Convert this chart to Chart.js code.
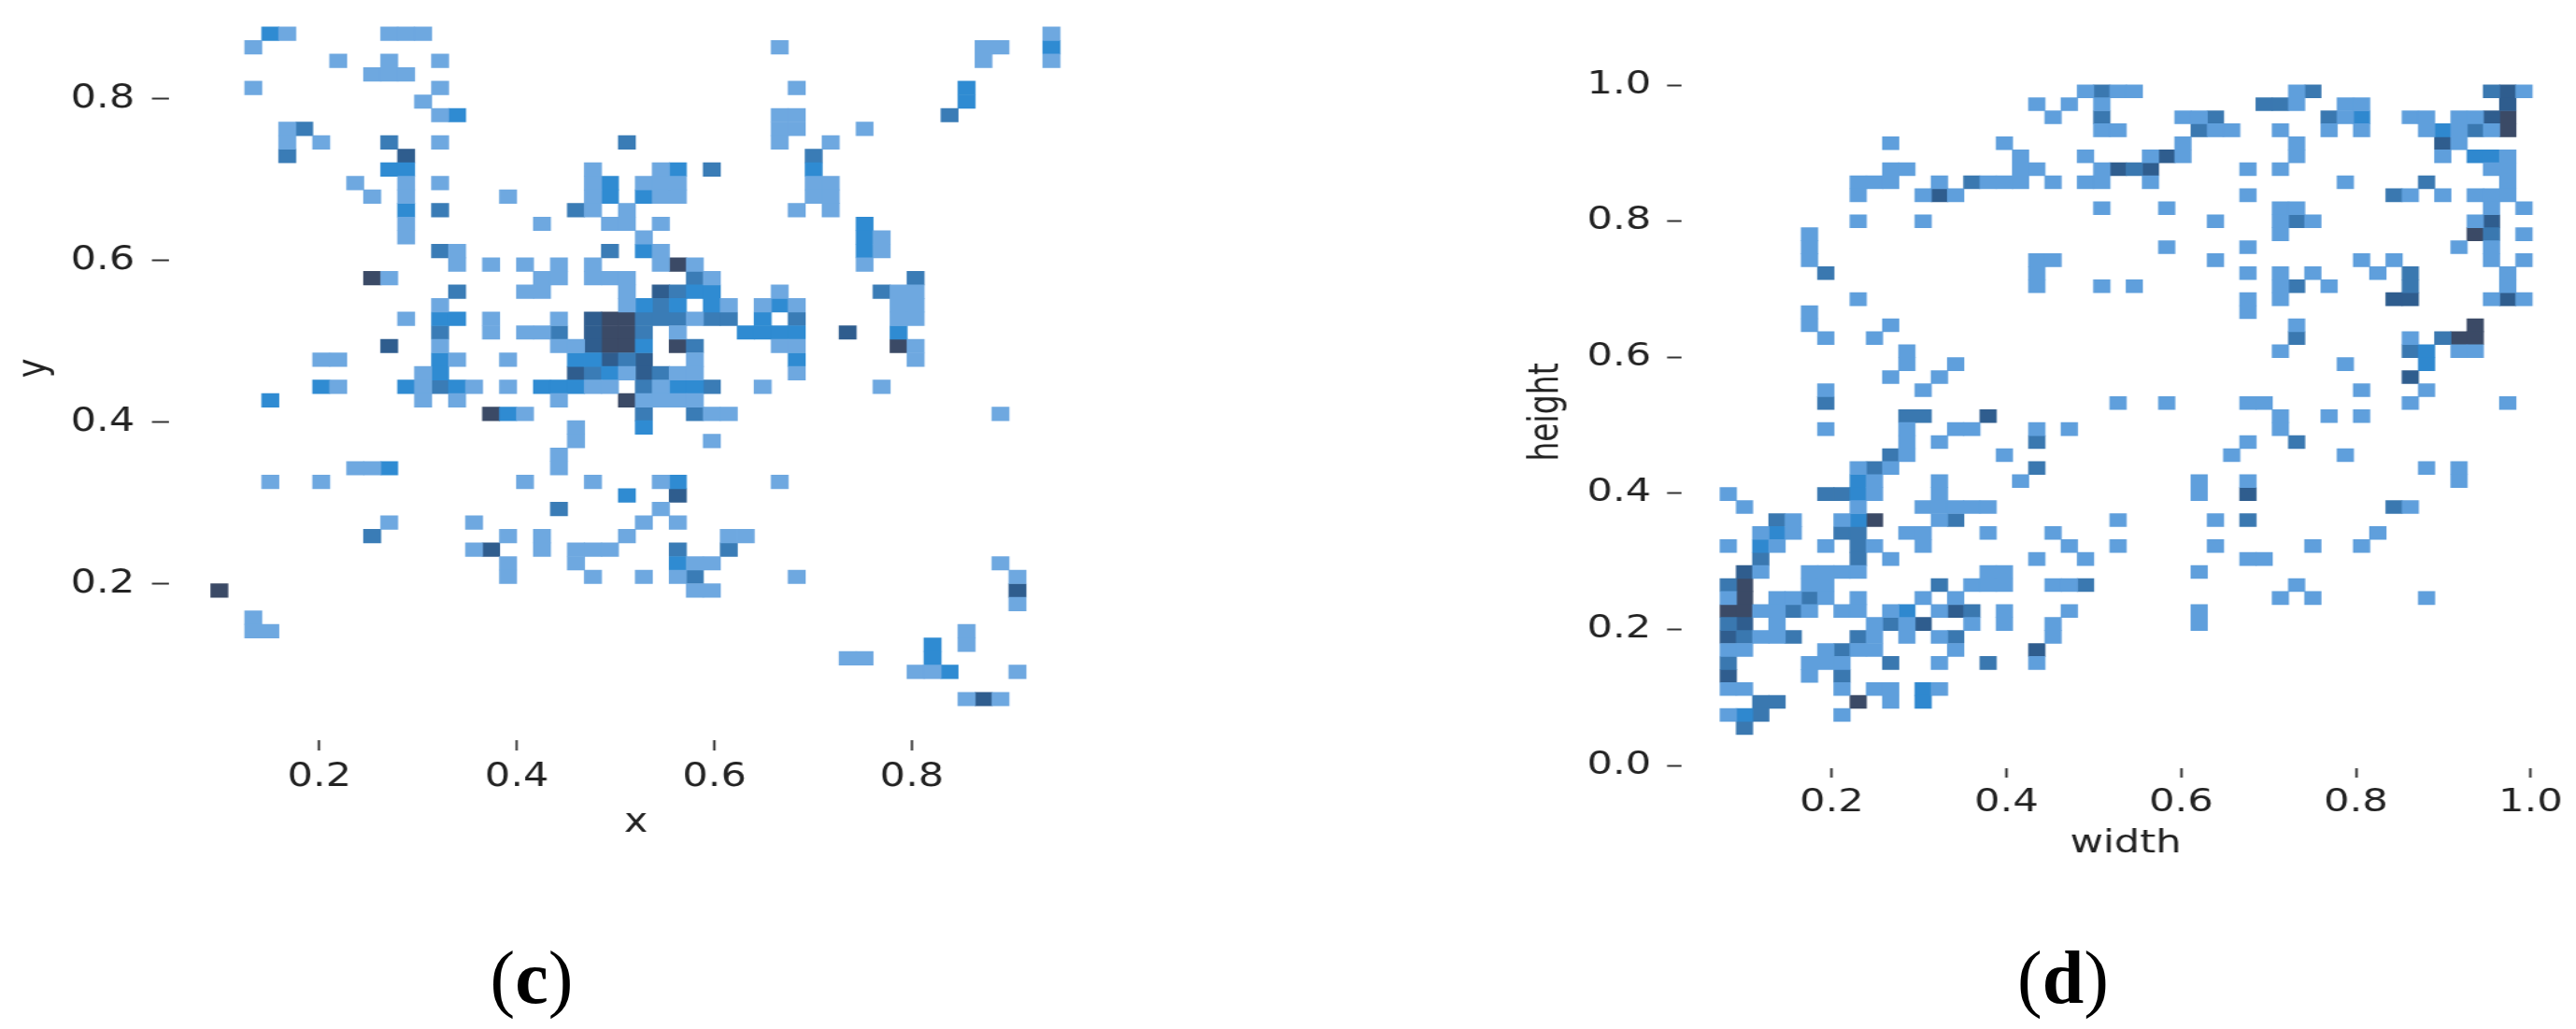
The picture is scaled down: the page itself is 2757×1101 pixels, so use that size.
<!DOCTYPE html>
<html>
<head>
<meta charset="utf-8">
<script src="https://cdn.jsdelivr.net/npm/chart.js@4/dist/chart.umd.min.js"></script>
<style>
    html, body { margin: 0; width: 2757px; height: 1101px; background: #fff; overflow: hidden; }
    canvas { position: absolute; transform-origin: 0 0; }
    #chartC { left: 0; top: -40px; transform: scaleX(1.23); }
    #chartD { left: 1590px; top: 0; transform: scaleX(1.31); }
    .caption { position: absolute; top: 1000px; width: 200px; text-align: center; font: 80px "Liberation Serif", serif; color: #000; line-height: 92px; }
</style>
</head>
<body>
<canvas id="chartC" width="1000" height="970"></canvas>
<canvas id="chartD" width="890" height="930"></canvas>
<div class="caption" style="left: 469px">(<b>c</b>)</div>
<div class="caption" style="left: 2108px">(<b>d</b>)</div>
<script>
// histogram counts, one string per row from the top, "column:count"
const countsC = [
    '3:2 4:1 10:1 11:1 12:1 49:1',
    '2:1 33:1 45:1 46:1 49:2',
    '7:1 10:1 13:1 45:1 49:1',
    '9:1 10:1 11:1',
    '2:1 13:1 34:1 44:2',
    '12:1 44:2',
    '13:1 14:2 33:1 34:1 43:3',
    '4:1 5:3 33:1 34:1 38:1',
    '4:1 6:1 10:3 13:1 24:3 33:1 36:1',
    '4:3 11:4 35:3',
    '10:2 11:2 22:1 26:1 27:2 29:3 35:2',
    '8:1 11:1 13:1 22:1 23:2 25:1 26:1 27:1 35:1 36:1',
    '9:1 11:1 17:1 22:1 23:2 25:2 26:1 27:1 35:1 36:1',
    '11:2 13:3 21:3 22:1 24:1 34:1 36:1',
    '11:1 19:1 23:1 24:1 26:1 38:2',
    '11:1 25:1 38:2 39:1',
    '13:3 14:1 23:3 25:2 26:1 38:2 39:1',
    '14:1 16:1 18:1 20:1 22:1 26:1 27:5 28:1 38:1',
    '9:5 10:1 19:1 20:1 22:1 23:1 24:1 28:3 29:1 41:3',
    '14:3 18:1 19:1 24:1 26:4 27:3 28:2 29:2 33:1 39:3 40:1 41:1',
    '13:1 24:1 25:2 26:3 27:2 29:2 30:1 32:1 33:2 34:1 40:1 41:1',
    '11:1 13:2 14:2 16:1 20:1 22:4 23:5 24:5 25:3 26:3 27:3 28:1 29:3 30:3 32:2 34:3 40:1 41:1',
    '13:3 16:1 18:1 19:1 20:3 22:4 23:5 24:5 25:3 27:1 31:2 32:2 33:2 34:2 37:4 40:2',
    '10:4 13:1 20:1 21:1 22:4 23:5 24:5 25:2 27:5 28:3 33:1 34:1 40:5 41:1',
    '6:1 7:1 13:2 14:1 17:1 21:2 22:2 23:4 24:3 25:4 28:1 34:2 41:1',
    '12:1 13:2 21:4 22:3 23:2 24:1 25:4 26:3 27:1 28:1 34:1',
    '6:2 7:1 11:2 12:1 13:3 14:2 15:1 17:1 19:2 20:2 21:2 22:1 23:1 25:3 26:1 27:2 28:2 29:3 32:1 39:1',
    '3:2 12:1 14:1 20:1 24:5 25:1 26:1 27:1 28:1',
    '16:5 17:2 18:1 25:3 28:3 29:1 30:1 46:1',
    '21:1 25:2',
    '21:1 29:1',
    '20:1',
    '8:1 9:1 10:2 20:1',
    '3:1 6:1 18:1 22:1 26:1 27:2 33:1',
    '24:2 27:4',
    '20:3 26:1',
    '10:1 15:1 25:1 27:1',
    '9:3 17:1 19:1 24:1 30:1 31:1',
    '15:1 16:4 19:1 21:1 22:1 23:1 27:3 30:3',
    '17:1 21:1 27:2 28:1 29:1 46:1',
    '17:1 22:1 25:1 27:1 28:3 34:1 47:1',
    '0:5 28:1 29:1 47:4',
    '47:1',
    '2:1',
    '2:1 3:1 44:1',
    '42:2 44:1',
    '37:1 38:1 42:2',
    '41:1 42:1 43:2 47:1',
    '',
    '44:1 45:4 46:1'
];

const countsD = [
    '22:1 23:3 24:1 25:1 35:1 36:3 47:3 48:4 49:1',
    '19:1 21:1 23:1 33:3 34:3 35:1 38:1 39:1 48:4',
    '20:1 23:3 28:1 29:1 30:3 37:3 38:1 39:2 42:1 43:1 45:1 46:1 47:4 48:5',
    '23:1 24:1 29:3 30:1 31:1 34:1 37:1 39:1 43:1 44:2 45:1 46:3 47:1 48:5',
    '10:1 17:1 28:1 35:1 44:4 45:1',
    '18:1 22:1 26:1 27:4 28:1 35:1 44:1 46:2 47:2 48:1',
    '10:1 11:1 18:1 19:1 23:1 24:4 25:3 26:4 32:1 34:1 47:1 48:1',
    '8:1 9:1 10:1 13:1 15:3 16:1 17:1 18:1 20:1 22:1 23:1 26:1 38:1 43:3 48:1',
    '8:1 12:1 13:4 14:1 32:1 41:3 42:1 44:1 46:1 47:1 48:1',
    '23:1 27:1 34:1 35:1 47:1 49:1',
    '8:1 12:1 30:1 34:1 35:3 36:1 46:1 47:4',
    '5:1 34:1 46:5 47:3 49:1',
    '5:1 27:1 32:1 45:1 47:1',
    '5:1 19:1 20:1 30:1 39:1 41:1 47:1 49:1',
    '6:3 19:1 32:1 34:1 36:1 40:1 42:3 48:1',
    '19:1 23:1 25:1 34:1 35:3 37:1 42:3 48:1',
    '8:1 32:1 34:1 41:4 42:4 47:1 48:4 49:1',
    '5:1 32:1',
    '5:1 10:1 35:1 46:5',
    '6:1 9:1 35:3 42:1 44:3 45:5 46:5',
    '11:1 34:1 42:3 43:2 45:1 46:1',
    '11:1 14:1 38:1 43:2',
    '10:1 13:1 42:4',
    '6:1 12:1 39:1 43:1',
    '6:3 24:1 27:1 32:1 33:1 42:1 48:1',
    '11:3 12:3 16:4 34:1 37:1 39:1',
    '6:1 11:1 14:1 15:1 19:1 21:1 34:1',
    '11:1 13:1 19:3 32:1 35:3',
    '10:3 11:1 17:1 31:1 38:1',
    '8:1 9:3 10:1 19:3 43:1 45:1',
    '8:2 9:1 13:1 18:1 29:1 32:1 45:1',
    '0:1 6:3 7:3 8:2 9:1 13:1 29:1 32:4',
    '1:1 8:1 12:1 13:1 14:1 15:1 16:1 41:3 42:1',
    '3:3 4:1 7:1 8:2 9:5 13:1 14:3 24:1 30:1 32:3',
    '2:1 3:2 4:1 7:3 8:3 11:1 12:1 16:1 20:1 40:1',
    '0:1 2:2 3:1 6:1 8:3 9:1 12:1 21:1 24:1 30:1 36:1 39:1',
    '2:3 8:3 10:1 19:1 22:1 32:1 33:1',
    '1:4 2:1 5:1 6:1 7:1 8:1 16:1 17:1 29:1',
    '0:3 1:5 5:1 6:1 13:3 15:1 16:1 17:1 20:1 21:1 22:3 35:1',
    '0:1 1:5 3:1 4:1 5:3 6:1 8:1 12:1 14:1 34:1 36:1 43:1',
    '0:5 1:5 2:1 3:1 4:3 5:1 7:1 8:1 10:1 11:2 13:1 14:4 15:3 17:1 21:1 29:1',
    '0:3 1:4 3:1 9:1 10:3 11:1 12:4 15:1 17:1 20:1 29:1',
    '0:4 1:3 2:1 3:1 4:3 8:3 9:1 11:1 13:1 14:3 20:1',
    '0:1 1:1 6:1 7:3 8:1 9:1 14:1 19:4',
    '0:3 5:1 6:1 7:1 10:3 13:1 16:3 19:1',
    '0:4 5:1 7:3',
    '0:1 1:1 7:1 9:1 10:1 12:2 13:1',
    '2:3 3:3 8:5 10:1 12:2',
    '0:1 1:2 2:3 7:1',
    '1:3'
];

// bin ranges: [low, high]
const xRangeC = [0.0902, 0.9499];
const yRangeC = [0.0494, 0.8885];
const xRangeD = [0.0722, 1.0016];
const yRangeD = [0.0457, 1.0004];
const binCount = 50;

const xTicksC = [0.2, 0.4, 0.6, 0.8];
const yTicksC = [0.2, 0.4, 0.6, 0.8];
const xTicksD = [0.2, 0.4, 0.6, 0.8, 1.0];
const yTicksD = [0.0, 0.2, 0.4, 0.6, 0.8, 1.0];

// one colour per count
const coloursC = ['#6ea8e0', '#2f8bd2', '#3a7cb6', '#2f5d8e', '#3b4a66'];
const coloursD = ['#5f9fdc', '#2f88cf', '#3a78b0', '#2f5d8e', '#3b4a66'];

// one bar dataset per count, each cell a floating bar
const buildDatasets = (rows, xRange, yRange, colours, barThickness) => {
    const binW = (xRange[1] - xRange[0]) / binCount;
    const binH = (yRange[1] - yRange[0]) / binCount;
    return colours.map((colour, level) => {
        const cells = [];
        rows.forEach((row, r) => {
            row.split(' ').filter(Boolean).forEach(cell => {
                const [col, count] = cell.split(':').map(Number);
                if (count === level + 1) {
                    cells.push({
                        x: xRange[0] + (col + 0.5) * binW,
                        y: [yRange[1] - (r + 1) * binH, yRange[1] - r * binH]
                    });
                }
            });
        });
        return { label: 'count ' + (level + 1), data: cells, backgroundColor: colour, borderWidth: 0, barThickness };
    });
};

const tickOptions = (fontSize, padding) => ({
    autoSkip: false,
    maxRotation: 0,
    color: '#222',
    padding,
    font: { family: '"DejaVu Sans"', size: fontSize },
    callback: v => v.toFixed(1)
});

const makePanel = (id, rows, xRange, yRange, colours, p) => {
    new Chart(document.getElementById(id), {
        type: 'bar',
        data: { datasets: buildDatasets(rows, xRange, yRange, colours, p.barThickness) },
        options: {
            responsive: false,
            animation: false,
            devicePixelRatio: 1,
            datasets: { bar: { grouped: false } },
            layout: { padding: p.padding },
            plugins: { legend: { display: false }, tooltip: { enabled: false } },
            scales: {
                x: {
                    type: 'linear',
                    offset: false,
                    min: p.xMin,
                    max: p.xMax,
                    afterBuildTicks: s => { s.ticks = p.xTicks.map(value => ({ value })); },
                    afterFit: s => { s.height = p.xAxisHeight; },
                    border: { display: false },
                    grid: { offset: false, drawOnChartArea: false, tickLength: p.xTickLength, tickWidth: 2, tickColor: '#333' },
                    ticks: tickOptions(p.fontSize, p.xTickPad),
                    title: { display: true, text: p.xTitle, color: '#222', font: { family: '"DejaVu Sans"', size: p.fontSize }, padding: { top: 0, bottom: p.xTitlePad } }
                },
                y: {
                    type: 'linear',
                    min: p.yMin,
                    max: p.yMax,
                    afterBuildTicks: s => { s.ticks = p.yTicks.map(value => ({ value })); },
                    afterFit: s => { s.width = p.yAxisWidth; },
                    border: { display: false },
                    grid: { drawOnChartArea: false, tickLength: p.yTickLength, tickWidth: 2, tickColor: '#333' },
                    ticks: tickOptions(p.fontSize, p.yTickPad),
                    title: { display: true, text: p.yTitle, color: '#222', font: { family: '"DejaVu Sans"', size: p.fontSize }, padding: { top: p.yTitlePad, bottom: 0 } }
                }
            }
        }
    });
};

makePanel('chartC', countsC, xRangeC, yRangeC, coloursC, {
    barThickness: 14.9, padding: { top: 32, right: 40.7, bottom: 0, left: 0 },
    xMin: 0.048, xMax: 0.993, yMin: 0.007, yMax: 0.9264,
    xTicks: xTicksC, yTicks: yTicksC, xTitle: 'x', yTitle: 'y',
    fontSize: 35, xAxisHeight: 138, yAxisWidth: 147.2,
    xTickLength: 11, yTickLength: 15, xTickPad: 8, yTickPad: 15,
    xTitlePad: 28, yTitlePad: 10
});

makePanel('chartD', countsD, xRangeD, yRangeD, coloursD, {
    barThickness: 13.4, padding: { top: 60, right: 4.5, bottom: 0, left: 0 },
    xMin: 0.0283, xMax: 1.0444, yMin: -0.004, yMax: 1.0426,
    xTicks: xTicksD, yTicks: yTicksD, xTitle: 'width', yTitle: 'height',
    fontSize: 33, xAxisHeight: 108, yAxisWidth: 160.3,
    xTickLength: 10, yTickLength: 12, xTickPad: 8, yTickPad: 13,
    xTitlePad: 7, yTitlePad: 31
});
</script>
</body>
</html>
